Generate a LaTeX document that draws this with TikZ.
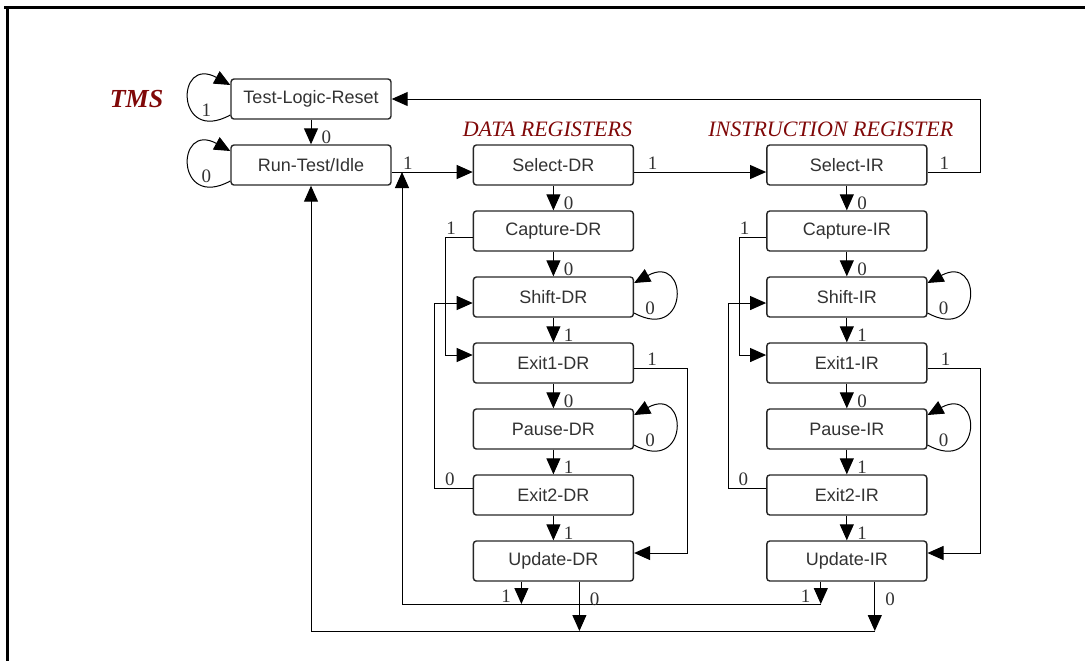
\documentclass[tikz,border=0pt]{standalone}
\usepackage{fontspec}
\setmainfont{Liberation Serif}
\setsansfont{Liberation Sans}
\usepackage{tikz}
\usetikzlibrary{positioning}
\usetikzlibrary{arrows.meta}
\definecolor{tapred}{RGB}{128,8,8}
\definecolor{boxtext}{RGB}{50,50,50}

\begin{document}
\begin{tikzpicture}[x=0.5pt, y=-0.5pt,
statenode/.style={rectangle, draw=black!85, line width=0.7pt, rounded corners=1.5pt, minimum width=80pt, minimum height=20pt, inner sep=0pt, text=boxtext, font=\sffamily\fontsize{9}{10}\selectfont},
headnode/.style={text=tapred, font=\itshape\fontsize{11}{12}\selectfont},
bit/.style={inner sep=1pt, text=black!80, font=\fontsize{9.5}{10}\selectfont},
tr/.style={-{Triangle[width=7pt,length=8pt]}, line width=0.5pt},
node distance=12.3pt,
]
\useasboundingbox (0,0) rectangle (1085,661);
\draw[line width=1.5pt] (4,7) -- (1085,7);
\draw[line width=1.5pt] (7,7) -- (7,661);

%Nodes
\node[statenode] (tlr) at (311,99) {Test-Logic-Reset};
\node[statenode] (rti) [below=of tlr] {Run-Test/Idle};
\node[text=tapred, font=\bfseries\itshape\fontsize{13}{14}\selectfont] (tms) [left=30pt of tlr] {TMS};

\node[statenode] (seldr) [right=40.5pt of rti] {Select-DR};
\node[statenode] (capdr) [below=of seldr] {Capture-DR};
\node[statenode] (shdr)  [below=of capdr] {Shift-DR};
\node[statenode] (ex1dr) [below=of shdr]  {Exit1-DR};
\node[statenode] (padr)  [below=of ex1dr] {Pause-DR};
\node[statenode] (ex2dr) [below=of padr]  {Exit2-DR};
\node[statenode] (updr)  [below=of ex2dr] {Update-DR};

\node[statenode] (selir) [right=66pt of seldr] {Select-IR};
\node[statenode] (capir) [below=of selir] {Capture-IR};
\node[statenode] (shir)  [below=of capir] {Shift-IR};
\node[statenode] (ex1ir) [below=of shir]  {Exit1-IR};
\node[statenode] (pair)  [below=of ex1ir] {Pause-IR};
\node[statenode] (ex2ir) [below=of pair]  {Exit2-IR};
\node[statenode] (upir)  [below=of ex2ir] {Update-IR};

\node[headnode] (dreg) [above=0.5pt of seldr, xshift=-3pt] {DATA REGISTERS};
\node[headnode] (ireg) [above=0.5pt of selir, xshift=-8pt] {INSTRUCTION REGISTER};

\coordinate (jn) at ([yshift=-3.5pt]rti.east);
\coordinate (bus1) at (402,604);
\coordinate (bus0) at (311,631);

%Lines
\draw[tr] (tlr) -- (rti) node[bit, pos=0.7, right=4pt] {0};
\draw[tr] ([yshift=-8pt]tlr.west) .. controls +(-55,30) and +(-55,-30) .. ([yshift=7pt]tlr.west);
\node[bit] at ([xshift=-12pt,yshift=-5.5pt]tlr.west) {1};
\draw[tr] ([yshift=-8pt]rti.west) .. controls +(-55,30) and +(-55,-30) .. ([yshift=7pt]rti.west);
\node[bit] at ([xshift=-12pt,yshift=-5.5pt]rti.west) {0};
\draw[tr] (jn) -- ([yshift=-3.5pt]seldr.west) node[bit, pos=0.2, above] {1};

% data register column
\draw[tr] ([yshift=-3.5pt]seldr.east) -- ([yshift=-3.5pt]selir.west) node[bit, pos=0.14, above] {1};
\draw[tr] (seldr) -- (capdr) node[bit, pos=0.7, right=4pt] {0};
\draw[tr] (capdr) -- (shdr)  node[bit, pos=0.7, right=4pt] {0};
\draw[tr] (shdr)  -- (ex1dr) node[bit, pos=0.7, right=4pt] {1};
\draw[tr] (ex1dr) -- (padr)  node[bit, pos=0.7, right=4pt] {0};
\draw[tr] (padr)  -- (ex2dr) node[bit, pos=0.7, right=4pt] {1};
\draw[tr] (ex2dr) -- (updr)  node[bit, pos=0.7, right=4pt] {1};
\draw[tr] ([yshift=-8pt]shdr.east) .. controls +(55,30) and +(55,-30) .. ([yshift=7pt]shdr.east);
\node[bit] at ([xshift=8pt,yshift=-5.5pt]shdr.east) {0};
\draw[tr] ([yshift=-8pt]padr.east) .. controls +(55,30) and +(55,-30) .. ([yshift=7pt]padr.east);
\node[bit] at ([xshift=8pt,yshift=-5.5pt]padr.east) {0};
\draw[tr] ([yshift=-3pt]capdr.west) -- ++(-27,0) node[bit, pos=0.8, above] {1} |- ([yshift=4pt]ex1dr.west);
\draw[tr] ([yshift=3.5pt]ex2dr.west) -- ++(-38,0) node[bit, pos=0.6, above] {0} |- ([yshift=-3pt]shdr.west);
\draw[tr] ([yshift=-2.5pt]ex1dr.east) -- ++(53,0) node[bit, pos=0.34, above] {1} |- ([yshift=4pt]updr.east);

% instruction register column
\draw[tr] ([yshift=-3.5pt]selir.east) -- ++(53,0) node[bit, pos=0.32, above] {1} |- (tlr.east);
\draw[tr] (selir) -- (capir) node[bit, pos=0.7, right=4pt] {0};
\draw[tr] (capir) -- (shir)  node[bit, pos=0.7, right=4pt] {0};
\draw[tr] (shir)  -- (ex1ir) node[bit, pos=0.7, right=4pt] {1};
\draw[tr] (ex1ir) -- (pair)  node[bit, pos=0.7, right=4pt] {0};
\draw[tr] (pair)  -- (ex2ir) node[bit, pos=0.7, right=4pt] {1};
\draw[tr] (ex2ir) -- (upir)  node[bit, pos=0.7, right=4pt] {1};
\draw[tr] ([yshift=-8pt]shir.east) .. controls +(55,30) and +(55,-30) .. ([yshift=7pt]shir.east);
\node[bit] at ([xshift=8pt,yshift=-5.5pt]shir.east) {0};
\draw[tr] ([yshift=-8pt]pair.east) .. controls +(55,30) and +(55,-30) .. ([yshift=7pt]pair.east);
\node[bit] at ([xshift=8pt,yshift=-5.5pt]pair.east) {0};
\draw[tr] ([yshift=-3pt]capir.west) -- ++(-27,0) node[bit, pos=0.8, above] {1} |- ([yshift=4pt]ex1ir.west);
\draw[tr] ([yshift=3.5pt]ex2ir.west) -- ++(-38,0) node[bit, pos=0.6, above] {0} |- ([yshift=-3pt]shir.west);
\draw[tr] ([yshift=-2.5pt]ex1ir.east) -- ++(53,0) node[bit, pos=0.34, above] {1} |- ([yshift=4pt]upir.east);

% update exits
\draw[tr] ([xshift=-16pt]updr.south) -- ([xshift=-16pt]updr.south |- bus1) node[bit, pos=0.65, left=4pt] {1};
\draw[tr] ([xshift=-13pt]upir.south) -- ([xshift=-13pt]upir.south |- bus1) node[bit, pos=0.65, left=4pt] {1};
\draw ([xshift=-13pt]upir.south |- bus1) -- (bus1);
\draw[tr] (bus1) -- (bus1 |- jn);
\draw[tr] ([xshift=13pt]updr.south) -- ([xshift=13pt]updr.south |- bus0) node[bit, pos=0.35, right=4pt] {0};
\draw[tr] ([xshift=14pt]upir.south) -- ([xshift=14pt]upir.south |- bus0) node[bit, pos=0.35, right=4pt] {0};
\draw ([xshift=14pt]upir.south |- bus0) -- (bus0);
\draw[tr] (bus0) -- (rti);
\end{tikzpicture}
\end{document}
